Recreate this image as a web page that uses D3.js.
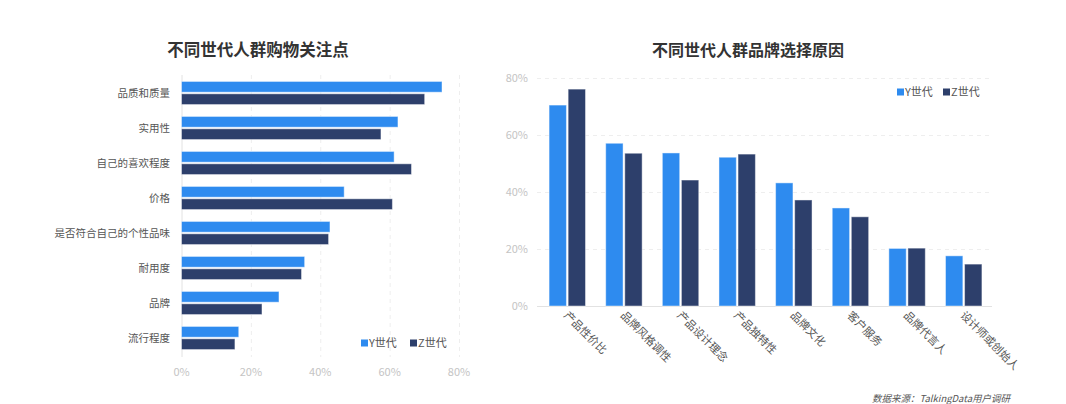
<!DOCTYPE html>
<html>
<head>
<meta charset="utf-8">
<script src="https://cdn.jsdelivr.net/npm/d3@7"></script>
<style>
  body { margin: 0; background: #fff; }
  svg { font-family: "Noto Sans CJK SC", "Noto Sans", sans-serif; }
</style>
</head>
<body>
<svg id="chart" width="1066" height="404"></svg>
<script>
const SERIES = ["Y世代", "Z世代"];
const COLORS = ["#2e8bef", "#2d3f6b"];

// left: 购物关注点
const FOCUS_CATS = ["品质和质量", "实用性", "自己的喜欢程度", "价格", "是否符合自己的个性品味", "耐用度", "品牌", "流行程度"];
const FOCUS_Y = [75.1, 62.4, 61.3, 46.9, 42.8, 35.5, 28.1, 16.5];
const FOCUS_Z = [70.1, 57.5, 66.3, 60.8, 42.4, 34.6, 23.2, 15.4];
const FOCUS_TICKS = [0, 20, 40, 60, 80];

// right: 品牌选择原因
const BRAND_CATS = ["产品性价比", "品牌风格调性", "产品设计理念", "产品独特性", "品牌文化", "客户服务", "品牌代言人", "设计师或创始人"];
const BRAND_Y = [70.5, 57.1, 53.7, 52.2, 43.2, 34.4, 20.2, 17.6];
const BRAND_Z = [76.1, 53.6, 44.2, 53.3, 37.2, 31.3, 20.3, 14.7];
const BRAND_TICKS = [0, 20, 40, 60, 80];

const svg = d3.select("#chart");

// ---------- left chart ----------
{
  const data = FOCUS_CATS.map((c, i) => ({ cat: c, vals: [FOCUS_Y[i], FOCUS_Z[i]] }));
  const x = d3.scaleLinear().domain([0, 80]).range([181.5, 459]);
  const y = d3.scaleBand().domain(FOCUS_CATS).range([75.5, 355.5]).paddingInner(0.34).paddingOuter(0.17);
  const ySub = d3.scaleBand().domain([0, 1]).range([0, y.bandwidth()]).paddingInner(0.13);

  svg.append("text")
    .attr("x", 258).attr("y", 56)
    .attr("text-anchor", "middle")
    .attr("font-size", 16.5).attr("font-weight", "bold").attr("fill", "#333")
    .text("不同世代人群购物关注点");

  const g = svg.append("g");
  g.selectAll("line.grid")
    .data(FOCUS_TICKS)
    .join("line")
    .attr("x1", (d) => x(d) + 0.5).attr("x2", (d) => x(d) + 0.5)
    .attr("y1", 75).attr("y2", 357)
    .attr("stroke", (d) => (d === 0 ? "#e2e2e2" : "#eeeeee"))
    .attr("stroke-dasharray", (d) => (d === 0 ? null : "4,4"));

  g.selectAll("text.tick")
    .data(FOCUS_TICKS)
    .join("text")
    .attr("x", (d) => x(d)).attr("y", 376)
    .attr("text-anchor", "middle")
    .attr("font-size", 11).attr("fill", "#c4c4c4")
    .text((d) => d + "%");

  const grp = g.selectAll("g.grp")
    .data(data)
    .join("g")
    .attr("transform", (d) => `translate(0,${y(d.cat)})`);
  grp.selectAll("rect")
    .data((d) => d.vals)
    .join("rect")
    .attr("x", x(0))
    .attr("y", (d, i) => ySub(i))
    .attr("width", (d) => x(d) - x(0))
    .attr("height", ySub.bandwidth())
    .attr("fill", (d, i) => COLORS[i])
    .attr("stroke", "#fff").attr("stroke-opacity", 0.45);

  g.selectAll("text.cat")
    .data(FOCUS_CATS)
    .join("text")
    .attr("x", 170)
    .attr("y", (d) => y(d) + y.bandwidth() / 2 + 4)
    .attr("text-anchor", "end")
    .attr("font-size", 10.5).attr("fill", "#555")
    .text((d) => d);

  const leg = g.selectAll("g.leg")
    .data(SERIES)
    .join("g")
    .attr("transform", (d, i) => `translate(${361 + i * 49},339)`);
  leg.append("rect").attr("width", 7).attr("height", 7).attr("y", 0.5).attr("fill", (d, i) => COLORS[i]);
  leg.append("text").attr("x", 8).attr("y", 8).attr("font-size", 11).attr("fill", "#555").text((d) => d);
}

// ---------- right chart ----------
{
  const data = BRAND_CATS.map((c, i) => ({ cat: c, vals: [BRAND_Y[i], BRAND_Z[i]] }));
  const x = d3.scaleBand().domain(BRAND_CATS).range([539, 992]).paddingInner(0.357).paddingOuter(0.178);
  const xSub = d3.scaleBand().domain([0, 1]).range([0, x.bandwidth()]).paddingInner(0.09);
  const y = d3.scaleLinear().domain([0, 80]).range([306, 78]);

  svg.append("text")
    .attr("x", 748).attr("y", 56)
    .attr("text-anchor", "middle")
    .attr("font-size", 16).attr("font-weight", "bold").attr("fill", "#333")
    .text("不同世代人群品牌选择原因");

  const g = svg.append("g");
  g.selectAll("line.grid")
    .data(BRAND_TICKS)
    .join("line")
    .attr("x1", 537).attr("x2", 992)
    .attr("y1", (d) => y(d) + 0.5).attr("y2", (d) => y(d) + 0.5)
    .attr("stroke", (d) => (d === 0 ? "#e2e2e2" : "#eeeeee"))
    .attr("stroke-dasharray", (d) => (d === 0 ? null : "4,4"));

  g.selectAll("text.tick")
    .data(BRAND_TICKS)
    .join("text")
    .attr("x", 528).attr("y", (d) => y(d) + 4)
    .attr("text-anchor", "end")
    .attr("font-size", 11).attr("fill", "#c4c4c4")
    .text((d) => d + "%");

  const grp = g.selectAll("g.grp")
    .data(data)
    .join("g")
    .attr("transform", (d) => `translate(${x(d.cat)},0)`);
  grp.selectAll("rect")
    .data((d) => d.vals)
    .join("rect")
    .attr("x", (d, i) => xSub(i))
    .attr("y", (d) => y(d))
    .attr("width", xSub.bandwidth())
    .attr("height", (d) => y(0) - y(d))
    .attr("fill", (d, i) => COLORS[i])
    .attr("stroke", "#fff").attr("stroke-opacity", 0.45);

  g.selectAll("text.cat")
    .data(BRAND_CATS)
    .join("text")
    .attr("transform", (d) => `translate(${x(d) + x.bandwidth() / 2 - 4},316) rotate(45)`)
    .attr("text-anchor", "start")
    .attr("font-size", 11).attr("fill", "#555")
    .text((d) => d);

  const leg = g.selectAll("g.leg")
    .data(SERIES)
    .join("g")
    .attr("transform", (d, i) => `translate(${897 + i * 46},88)`);
  leg.append("rect").attr("width", 7).attr("height", 7).attr("y", 0.5).attr("fill", (d, i) => COLORS[i]);
  leg.append("text").attr("x", 8).attr("y", 8).attr("font-size", 11).attr("fill", "#555").text((d) => d);

  svg.append("text")
    .attr("x", 1010).attr("y", 402)
    .attr("text-anchor", "end")
    .attr("font-size", 9.5).attr("font-style", "italic").attr("fill", "#555")
    .text("数据来源：TalkingData用户调研");
}
</script>
</body>
</html>
